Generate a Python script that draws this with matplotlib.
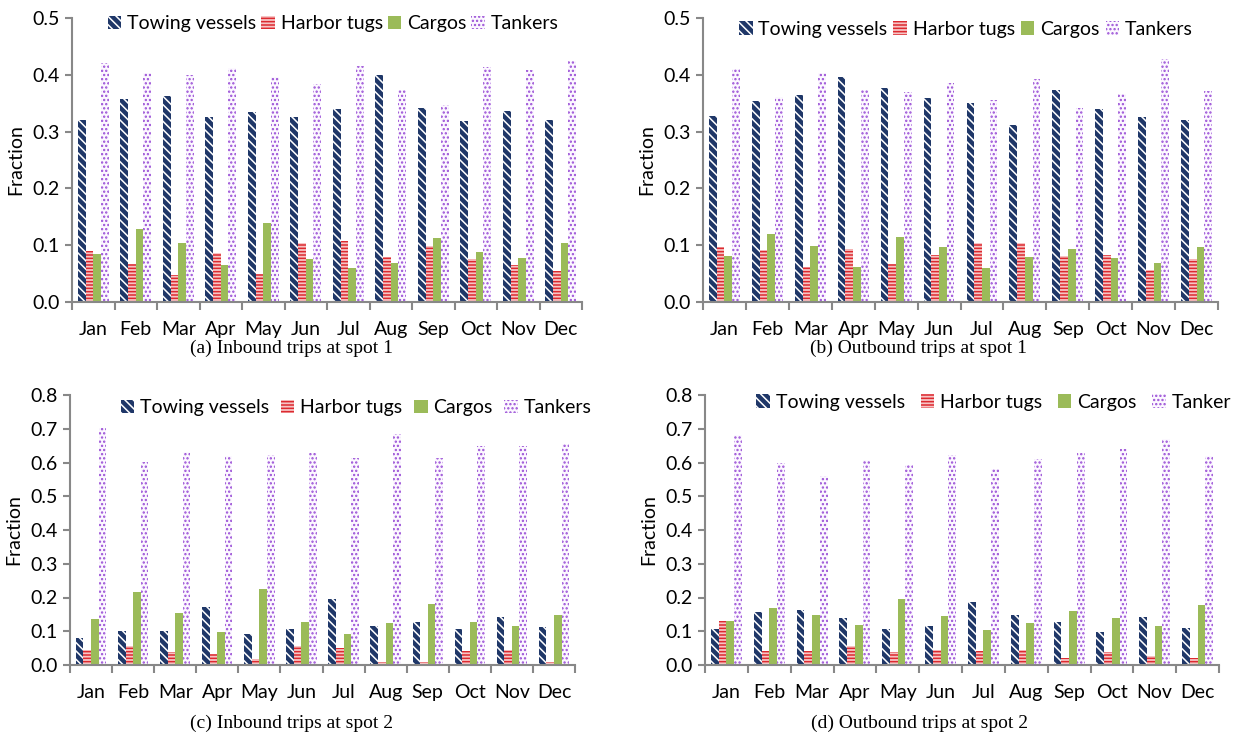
import numpy as np
import matplotlib
matplotlib.use('Agg')
import matplotlib.pyplot as plt
from matplotlib.patches import Patch

plt.rcParams['font.family'] = ['Lato', 'DejaVu Sans']
plt.rcParams['hatch.linewidth'] = 1.1

meses = ['Jan', 'Feb', 'Mar', 'Apr', 'May', 'Jun', 'Jul', 'Aug', 'Sep', 'Oct', 'Nov', 'Dec']

# (a) Inbound spot 1
a_towing = [0.321, 0.357, 0.363, 0.326, 0.334, 0.325, 0.340, 0.400, 0.341, 0.319, 0.336, 0.321]
a_harbor = [0.090, 0.067, 0.048, 0.086, 0.050, 0.104, 0.107, 0.079, 0.099, 0.075, 0.065, 0.054]
a_cargos = [0.085, 0.128, 0.104, 0.066, 0.139, 0.075, 0.060, 0.069, 0.113, 0.088, 0.077, 0.103]
a_tankers = [0.420, 0.404, 0.400, 0.412, 0.397, 0.383, 0.415, 0.373, 0.347, 0.414, 0.408, 0.425]

# (b) Outbound spot 1
b_towing = [0.328, 0.354, 0.365, 0.397, 0.377, 0.359, 0.350, 0.311, 0.373, 0.340, 0.326, 0.321]
b_harbor = [0.096, 0.092, 0.061, 0.093, 0.067, 0.083, 0.104, 0.104, 0.081, 0.083, 0.057, 0.075]
b_cargos = [0.081, 0.120, 0.099, 0.062, 0.115, 0.096, 0.059, 0.080, 0.093, 0.077, 0.069, 0.097]
b_tankers = [0.410, 0.361, 0.404, 0.373, 0.370, 0.386, 0.356, 0.393, 0.342, 0.367, 0.428, 0.372]

# (c) Inbound spot 2
c_towing = [0.080, 0.101, 0.101, 0.173, 0.091, 0.107, 0.197, 0.115, 0.127, 0.106, 0.142, 0.114]
c_harbor = [0.044, 0.055, 0.039, 0.032, 0.019, 0.057, 0.051, 0.010, 0.010, 0.042, 0.043, 0.009]
c_cargos = [0.137, 0.216, 0.153, 0.098, 0.224, 0.126, 0.093, 0.125, 0.181, 0.127, 0.116, 0.149]
c_tankers = [0.701, 0.602, 0.632, 0.619, 0.621, 0.627, 0.613, 0.683, 0.612, 0.648, 0.648, 0.655]

# (d) Outbound spot 2
d_towing = [0.108, 0.157, 0.164, 0.139, 0.107, 0.115, 0.186, 0.148, 0.127, 0.098, 0.141, 0.109]
d_harbor = [0.131, 0.042, 0.042, 0.055, 0.038, 0.044, 0.041, 0.043, 0.022, 0.038, 0.026, 0.022]
d_cargos = [0.131, 0.168, 0.149, 0.119, 0.197, 0.145, 0.104, 0.123, 0.159, 0.139, 0.115, 0.178]
d_tankers = [0.681, 0.600, 0.560, 0.608, 0.593, 0.621, 0.582, 0.609, 0.627, 0.639, 0.669, 0.618]

# estilos: (fundo, cor da hachura, hachura)
estilos = [
    ('#1f3768', 'white', '\\\\\\\\'),
    ('#f6c4c4', '#dc2a30', '-----'),
    ('#9bbb59', '#9bbb59', ''),
    ('#fcf8ff', '#9a4fd6', '....'),
]

W, H = 1239, 740
fig = plt.figure(figsize=(W / 100, H / 100), dpi=100)


def eixo(px_left, px_right, px_top, px_bottom):
    return fig.add_axes([px_left / W, 1 - px_bottom / H,
                         (px_right - px_left) / W, (px_bottom - px_top) / H])


def painel(ax, series, ymax, nomes, leg_x, leg_y, colsp):
    x = np.arange(12)
    w = 0.18
    for i, (vals, (fc, hc, ht)) in enumerate(zip(series, estilos)):
        ax.bar(x + (i - 1.5) * w, vals, w, facecolor=fc, edgecolor=hc, hatch=ht, linewidth=0)
    ax.set_xlim(-0.5, 11.5)
    ax.set_ylim(0, ymax)
    ax.set_yticks(np.arange(0, ymax + 0.001, 0.1))
    ax.set_yticklabels(['%.1f' % v for v in np.arange(0, ymax + 0.001, 0.1)], fontsize=14)
    ax.set_xticks(x)
    ax.set_xticklabels(meses, fontsize=14)
    ax.set_xticks(np.arange(-0.5, 12, 1), minor=True)
    ax.tick_params(axis='x', which='major', length=0, pad=14)
    ax.tick_params(axis='x', which='minor', length=6, width=1.5, color='#888888', direction='out')
    ax.tick_params(axis='y', length=5, width=1.5, color='#888888', pad=4)
    for s in ['top', 'right']:
        ax.spines[s].set_visible(False)
    for s in ['left', 'bottom']:
        ax.spines[s].set_color('#888888')
        ax.spines[s].set_linewidth(1.5)
    ax.set_ylabel('Fraction', fontsize=14, labelpad=6)
    handles = [Patch(facecolor=fc, edgecolor=hc, hatch=ht, linewidth=0) for fc, hc, ht in estilos]
    ax.legend(handles, nomes, loc='center left', bbox_to_anchor=(leg_x, leg_y), ncol=4,
              frameon=False, fontsize=14, handlelength=0.7, handleheight=0.7,
              handletextpad=0.3, columnspacing=colsp, borderpad=0, borderaxespad=0)


nomes = ['Towing vessels', 'Harbor tugs', 'Cargos', 'Tankers']

ax_a = eixo(72, 582, 18, 302)
painel(ax_a, [a_towing, a_harbor, a_cargos, a_tankers], 0.5, nomes, 0.07, 0.979, 0.25)
ax_b = eixo(703, 1218, 18, 302)
painel(ax_b, [b_towing, b_harbor, b_cargos, b_tankers], 0.5, nomes, 0.07, 0.96, 0.3)
ax_c = eixo(70, 575, 395, 665)
painel(ax_c, [c_towing, c_harbor, c_cargos, c_tankers], 0.8, nomes, 0.1, 0.952, 0.6)
ax_d = eixo(705, 1219, 395, 665)
painel(ax_d, [d_towing, d_harbor, d_cargos, d_tankers], 0.8,
       ['Towing vessels', 'Harbor tugs', 'Cargos', 'Tanker'], 0.1, 0.974, 0.8)

legendas = ['(a) Inbound trips at spot 1', '(b) Outbound trips at spot 1',
            '(c) Inbound trips at spot 2', '(d) Outbound trips at spot 2']
posicoes = [(292, 348), (918, 348), (292, 723), (920, 723)]
for txt, (px, py) in zip(legendas, posicoes):
    fig.text(px / W, 1 - py / H, txt, ha='center', va='center', fontsize=14,
             family='Liberation Serif')

fig.savefig('out.png', dpi=100)
